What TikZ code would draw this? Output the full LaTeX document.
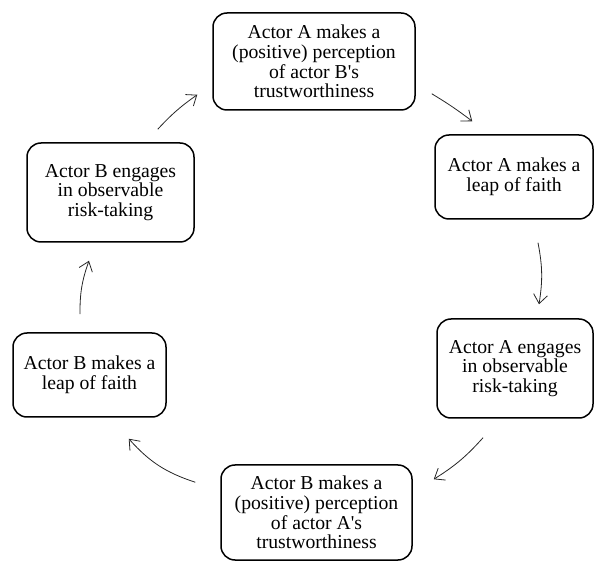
\documentclass[tikz,border=0pt]{standalone}
\usepackage{fontspec}
\setmainfont{Liberation Serif}
\usetikzlibrary{arrows.meta}
\newcommand{\apos}{\textquotesingle}

\begin{document}
\begin{tikzpicture}[
      x=1pt,y=1pt,
      box/.style={draw,line width=1.5pt,rounded corners=14pt,align=center,
        inner sep=2pt,font=\fontsize{19.7}{19.6}\selectfont},
      flow/.style={line width=0.8pt,draw=black!85,->,
        >={Straight Barb[length=9pt,width=14pt,line width=0.8pt]}}
    ]
    \useasboundingbox (0,0) rectangle (595,-561);
    % Draw the boxes.
    \node[box,minimum width=202pt,minimum height=97pt] (percA) at (314,-61.5)
      {Actor A makes a\\(positive) perception\\of actor B\apos s\\trustworthiness};
    \node[box,minimum width=158pt,minimum height=84pt] (leapA) at (514,-177)
      {Actor A makes a\\leap of faith};
    \node[box,minimum width=156pt,minimum height=99pt] (riskA) at (515,-368.5)
      {Actor A engages\\in observable\\risk-taking};
    \node[box,minimum width=191pt,minimum height=95pt] (percB) at (316.5,-512.5)
      {Actor B makes a\\(positive) perception\\of actor A\apos s\\trustworthiness};
    \node[box,minimum width=153pt,minimum height=84pt] (leapB) at (89.5,-375)
      {Actor B makes a\\leap of faith};
    \node[box,minimum width=167pt,minimum height=99pt] (riskB) at (110.5,-192.5)
      {Actor B engages\\in observable\\risk-taking};
    % Draw the arrows.
    \draw[flow] ([shift={(16,17)}]percA.south east) to[bend left=3]
      ([shift={(38,13)}]leapA.north west);
    \draw[flow] ([shift={(24,-23)}]leapA.south) to[bend left=10]
      ([shift={(24,14)}]riskA.north);
    \draw[flow] ([shift={(-32,-19)}]riskA.south) to[bend left=8]
      ([shift={(21,-15)}]percB.north east);
    \draw[flow] ([shift={(-25,-18)}]percB.north west) to[bend left=15]
      ([shift={(-38,-21)}]leapB.south east);
    \draw[flow] ([shift={(-9.5,18)}]leapB.north) to[bend left=10]
      ([shift={(-21.5,-18)}]riskB.south);
    \draw[flow] ([shift={(-37,13)}]riskB.north east) to[bend left=6]
      ([shift={(-15,16)}]percA.south west);
    \end{tikzpicture}
\end{document}
